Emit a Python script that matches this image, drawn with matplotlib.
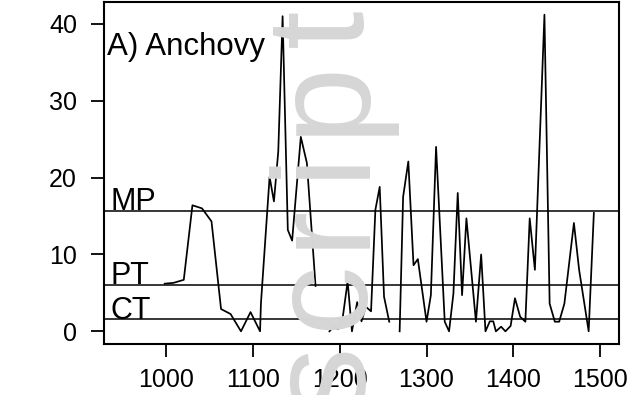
import numpy as np
import matplotlib
matplotlib.use("Agg")
import matplotlib.pyplot as plt

plt.rcParams['font.family'] = ['Liberation Sans', 'DejaVu Sans']

years = [998, 1008, 1020, 1030, 1041, 1052, 1063, 1074, 1086, 1097, 1108, 1109,
         1119, 1124, 1129, 1134, 1140, 1145, 1155, 1162, 1172, 1180,
         1188, 1193, 1198, 1203, 1209, 1214, 1220, 1225, 1230, 1236, 1241, 1246,
         1251, 1257, 1263,
         1269, 1273, 1279, 1285, 1290, 1300, 1305, 1311, 1321, 1326, 1331, 1336,
         1341, 1346, 1357, 1363, 1368, 1373, 1377, 1380, 1386, 1391, 1397, 1402,
         1408, 1414, 1419, 1425, 1436, 1442, 1448, 1453, 1459, 1470, 1476, 1487, 1493]
anchovy = [6.2, 6.3, 6.7, 16.4, 16.0, 14.3, 2.9, 2.25, 0.0, 2.5, 0.0, 3.6,
           20.1, 16.9, 23.4, 41.0, 13.2, 11.8, 25.3, 21.9, 5.9, np.nan,
           0.0, 0.6, 0.3, 1.5, 6.5, 0.0, 3.8, 1.3, 3.2, 2.6, 15.8, 18.8,
           4.5, 1.25, np.nan,
           0.0, 17.5, 22.1, 8.6, 9.4, 1.25, 4.7, 24.0, 1.25, 0.0, 4.9, 18.0,
           4.7, 14.7, 1.25, 10.0, 0.0, 1.3, 1.3, 0.0, 0.6, 0.0, 0.7, 4.3,
           1.9, 1.25, 14.7, 8.0, 41.2, 3.6, 1.25, 1.25, 3.6, 14.1, 8.0, 0.0, 15.4]

thresh_labels = ["MP", "PT", "CT"]
thresh_values = [15.66, 6.0, 1.56]

xticks = [1000, 1100, 1200, 1300, 1400, 1500]
yticks = [0, 10, 20, 30, 40]
panel_title = "A) Anchovy"

# watermark letters (reading bottom to top) and their vertical centres in pixels from top
wm_letters = ["s", "c", "r", "i", "p", "t"]
wm_centres = [378, 295, 225, 163, 97, 28]

W, H = 633, 395
fig = plt.figure(figsize=(W / 100, H / 100), dpi=100)
ax = fig.add_axes([104 / W, 51 / H, 515 / W, 342 / H])

for ch, yc in zip(wm_letters, wm_centres):
    fig.text(362 / W, 1 - yc / H, ch, rotation=90, rotation_mode='anchor',
             ha='center', va='baseline', fontsize=100, color='#d6d6d6', zorder=0)
ax.patch.set_alpha(0)

ax.plot(years, anchovy, color='black', lw=1.25, zorder=3)
for lab, v in zip(thresh_labels, thresh_values):
    ax.axhline(v, color='black', lw=1.1, zorder=2)
    ax.text(935, v + 0.1, lab, fontsize=22, ha='left', va='baseline', zorder=4)

ax.text(931.5, 36.0, panel_title, fontsize=22.5, ha='left', va='baseline', zorder=4)

ax.set_xlim(928, 1522)
ax.set_ylim(-1.65, 42.85)
ax.set_xticks(xticks)
ax.set_yticks(yticks)
ax.tick_params(axis='both', direction='out', length=9.5, width=1.3, labelsize=18)
ax.tick_params(axis='x', pad=8)
ax.tick_params(axis='y', pad=10)
for s in ax.spines.values():
    s.set_linewidth(1.5)

fig.savefig("out.png", dpi=100)
